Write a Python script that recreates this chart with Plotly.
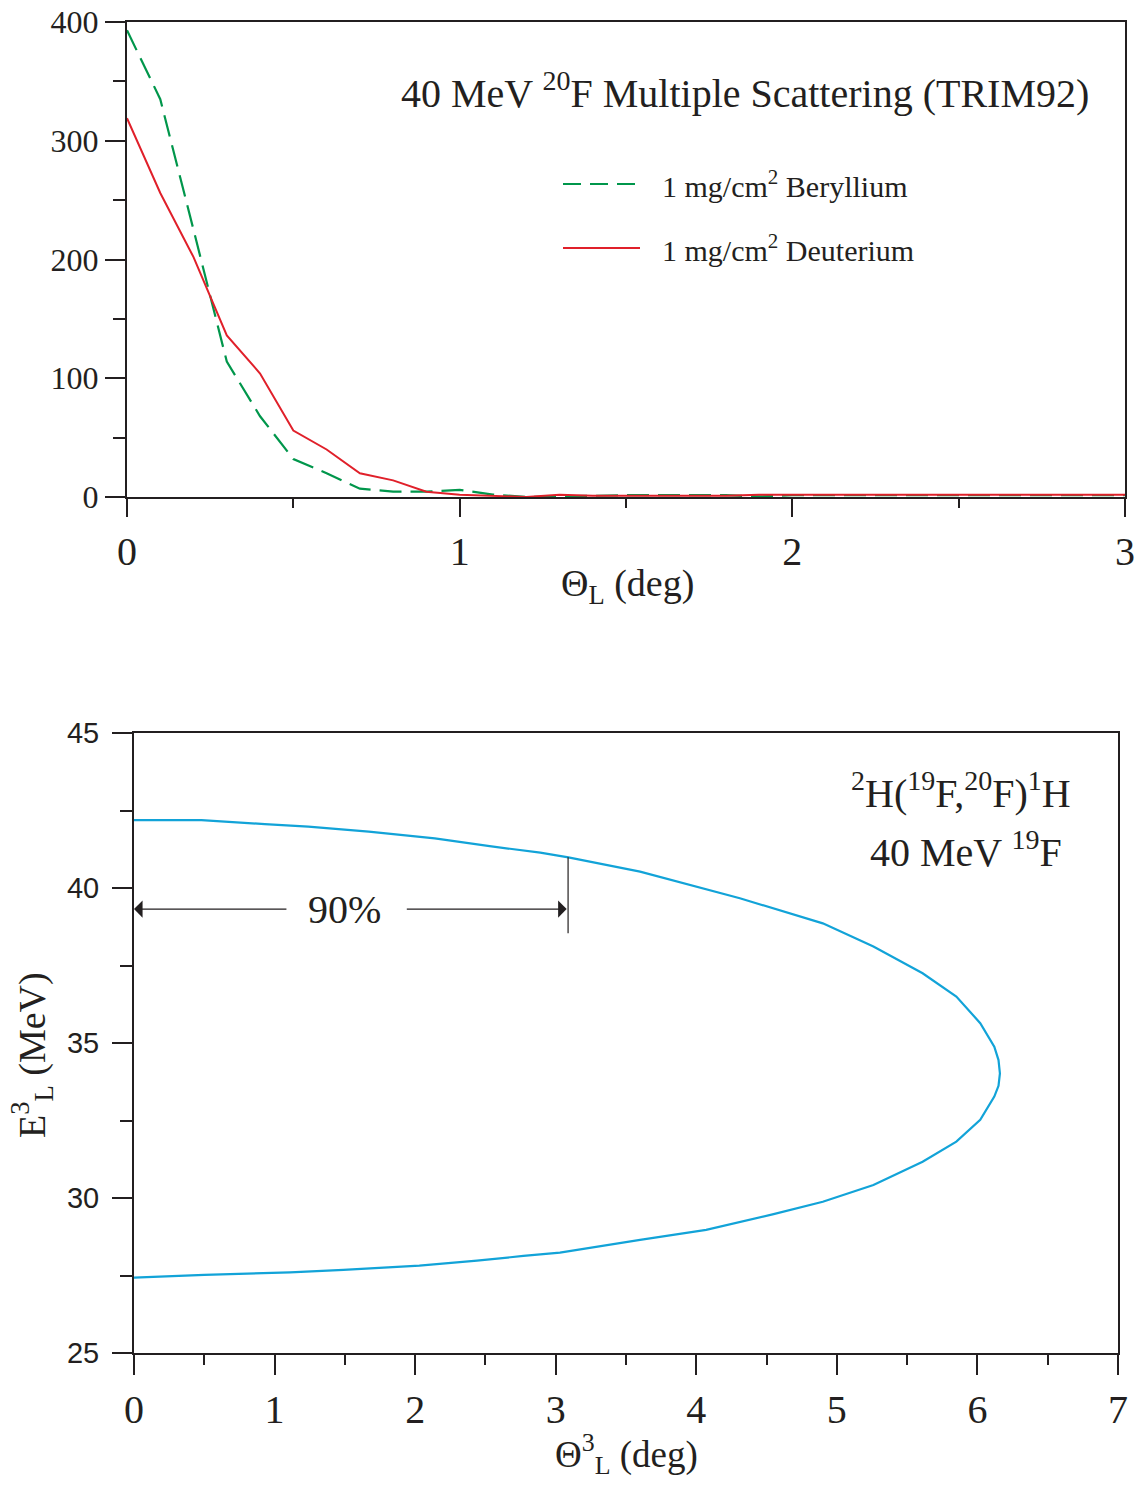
import plotly.graph_objects as go

# ---------- Top panel data: 40 MeV 20F multiple scattering (TRIM92) ----------
theta_top = [round(0.1 * i, 1) for i in range(31)]
beryllium = [393, 335, 225, 114, 68, 32, 20, 7, 4.5, 4.5, 6, 2, 0, 0.5, 1.5, 1.5,
             1.5, 1.5, 1.5, 0.5, 1.5, 1.5, 1.5, 1.5, 1.5, 1.5, 1.5, 1.5, 1.5, 1.5, 1.5]
deuterium = [319, 256, 202, 136, 104, 56, 40, 20, 14, 4.5, 2, 1, 0, 2, 1, 1,
             1, 1, 1, 2, 2, 2, 2, 2, 2, 2, 2, 2, 2, 2, 2]

# ---------- Bottom panel data: kinematic curve 2H(19F,20F)1H ----------
theta3 = [0, 0.48, 0.93, 1.24, 1.67, 2.14, 2.53, 2.89, 3.09, 3.6, 4.31, 4.9, 5.26,
          5.61, 5.85, 6.02, 6.12, 6.15, 6.16, 6.15,
          6.12, 6.02, 5.85, 5.61, 5.26, 4.9, 4.55, 4.07, 3.6, 3.03, 2.77, 2.44,
          2.03, 1.77, 1.49, 1.11, 0.5, 0]
energy3 = [42.19, 42.19, 42.06, 41.98, 41.82, 41.6, 41.35, 41.14, 40.99, 40.53,
           39.67, 38.86, 38.11, 37.25, 36.5, 35.64, 34.88, 34.45, 34.02, 33.62,
           33.27, 32.52, 31.82, 31.17, 30.42, 29.88, 29.48, 28.97, 28.65, 28.24,
           28.13, 27.98, 27.82, 27.75, 27.68, 27.6, 27.52, 27.43]

# 90% annotation
theta_90 = 3.088
arrow_E = 39.32
vline_E = [38.54, 40.99]

W, H = 1148, 1485
INK = "#231f20"
SERIF = "Liberation Serif, Times New Roman, serif"
SANS = "Liberation Sans, Arial, sans-serif"
GREEN = "#00964b"
RED = "#e0202a"
BLUE = "#12a3d8"


def px_x(p):
    return p / W


def px_y(p):
    return 1 - p / H


fig = go.Figure()

fig.add_trace(go.Scatter(x=theta_top, y=beryllium, mode="lines", name="1 mg/cm² Beryllium",
                         line=dict(color=GREEN, width=2.2, dash="22px,9px"),
                         xaxis="x", yaxis="y", showlegend=False))
fig.add_trace(go.Scatter(x=theta_top, y=deuterium, mode="lines", name="1 mg/cm² Deuterium",
                         line=dict(color=RED, width=2), xaxis="x", yaxis="y", showlegend=False))
fig.add_trace(go.Scatter(x=theta3, y=energy3, mode="lines", name="E3L",
                         line=dict(color=BLUE, width=2.2),
                         xaxis="x2", yaxis="y2", showlegend=False))

axis_common = dict(showgrid=False, zeroline=False, showline=True, linecolor=INK,
                   linewidth=2, mirror=True, ticks="outside", tickcolor=INK, tickwidth=1.6,
                   automargin=False)

fig.update_layout(
    width=W, height=H,
    margin=dict(l=0, r=0, t=0, b=0, pad=0),
    paper_bgcolor="white", plot_bgcolor="white",
    xaxis=dict(domain=[px_x(127), px_x(1125)], range=[0, 3], anchor="y",
               tickvals=[0, 1, 2, 3], ticklen=18, ticklabelstandoff=0,
               minor=dict(dtick=0.5, ticklen=9, ticks="outside", tickcolor=INK, tickwidth=1.6),
               tickfont=dict(family=SERIF, size=40, color=INK), **axis_common),
    yaxis=dict(domain=[px_y(497), px_y(22)], range=[0, 400], anchor="x",
               tickvals=[0, 100, 200, 300, 400], ticklen=20, ticklabelstandoff=0,
               minor=dict(dtick=50, ticklen=12, ticks="outside", tickcolor=INK, tickwidth=1.6),
               tickfont=dict(family=SERIF, size=32, color=INK), **axis_common),
    xaxis2=dict(domain=[px_x(134), px_x(1118)], range=[0, 7], anchor="y2",
                tickvals=list(range(8)), ticklen=20, ticklabelstandoff=0,
                minor=dict(dtick=0.5, ticklen=10, ticks="outside", tickcolor=INK, tickwidth=1.6),
                tickfont=dict(family=SERIF, size=40, color=INK), **axis_common),
    yaxis2=dict(domain=[px_y(1353), px_y(733)], range=[25, 45], anchor="x2",
                tickvals=[25, 30, 35, 40, 45], ticklen=20, ticklabelstandoff=7,
                minor=dict(dtick=2.5, ticklen=12, ticks="outside", tickcolor=INK, tickwidth=1.6),
                tickfont=dict(family=SANS, size=29, color=INK), **axis_common),
)

ann = []
# Top title
ann.append(dict(text="40 MeV <sup>20</sup>F Multiple Scattering (TRIM92)", xref="paper", yref="paper",
                x=px_x(745), y=px_y(91), xanchor="center", yanchor="middle", showarrow=False,
                font=dict(family=SERIF, size=40, color=INK)))
# Legend texts
ann.append(dict(text="1 mg/cm<sup>2</sup> Beryllium", xref="paper", yref="paper",
                x=px_x(660), y=px_y(184), xanchor="left", yanchor="middle", showarrow=False,
                font=dict(family=SERIF, size=30, color=INK)))
ann.append(dict(text="1 mg/cm<sup>2</sup> Deuterium", xref="paper", yref="paper",
                x=px_x(660), y=px_y(248), xanchor="left", yanchor="middle", showarrow=False,
                font=dict(family=SERIF, size=30, color=INK)))
# Axis titles
ann.append(dict(text="Θ<sub>L</sub> (deg)", xref="paper", yref="paper",
                x=px_x(627), y=px_y(586), xanchor="center", yanchor="middle", showarrow=False,
                font=dict(family=SERIF, size=38, color=INK)))
ann.append(dict(text="Θ<sup>3</sup><sub>L</sub> (deg)", xref="paper", yref="paper",
                x=px_x(626), y=px_y(1454), xanchor="center", yanchor="middle", showarrow=False,
                font=dict(family=SERIF, size=37, color=INK)))
ann.append(dict(text="E<sup>3</sup><sub>L</sub> (MeV)", xref="paper", yref="paper",
                x=px_x(32), y=px_y(1055), xanchor="center", yanchor="middle", showarrow=False,
                textangle=-90, font=dict(family=SERIF, size=38, color=INK)))
# Bottom panel labels
ann.append(dict(text="<sup>2</sup>H(<sup>19</sup>F,<sup>20</sup>F)<sup>1</sup>H", xref="paper", yref="paper",
                x=px_x(961), y=px_y(790), xanchor="center", yanchor="middle", showarrow=False,
                font=dict(family=SERIF, size=40, color=INK)))
ann.append(dict(text="40 MeV <sup>19</sup>F", xref="paper", yref="paper",
                x=px_x(966), y=px_y(850), xanchor="center", yanchor="middle", showarrow=False,
                font=dict(family=SERIF, size=40, color=INK)))
# 90% arrows
ann.append(dict(text="90%", xref="x2", yref="y2", x=1.5, y=arrow_E, xanchor="center",
                yanchor="middle", showarrow=False, font=dict(family=SERIF, size=40, color=INK)))
ann.append(dict(text="", xref="x2", yref="y2", axref="x2", ayref="y2", x=0.0, y=arrow_E,
                ax=1.095, ay=arrow_E, showarrow=True, arrowhead=1, arrowsize=2.2,
                arrowwidth=1.3, arrowcolor=INK))
ann.append(dict(text="", xref="x2", yref="y2", axref="x2", ayref="y2", x=theta_90 - 0.01, y=arrow_E,
                ax=1.93, ay=arrow_E, showarrow=True, arrowhead=1, arrowsize=2.2,
                arrowwidth=1.3, arrowcolor=INK))
fig.update_layout(annotations=ann)

shapes = [
    dict(type="line", xref="x2", yref="y2", x0=theta_90, x1=theta_90, y0=vline_E[0], y1=vline_E[1],
         line=dict(color=INK, width=1.2)),
    dict(type="line", xref="paper", yref="paper", x0=px_x(563), x1=px_x(640), y0=px_y(184), y1=px_y(184),
         line=dict(color=GREEN, width=2.2, dash="18px,9px")),
    dict(type="line", xref="paper", yref="paper", x0=px_x(563), x1=px_x(640), y0=px_y(248), y1=px_y(248),
         line=dict(color=RED, width=2)),
]
fig.update_layout(shapes=shapes)

fig.write_html("out.html")
